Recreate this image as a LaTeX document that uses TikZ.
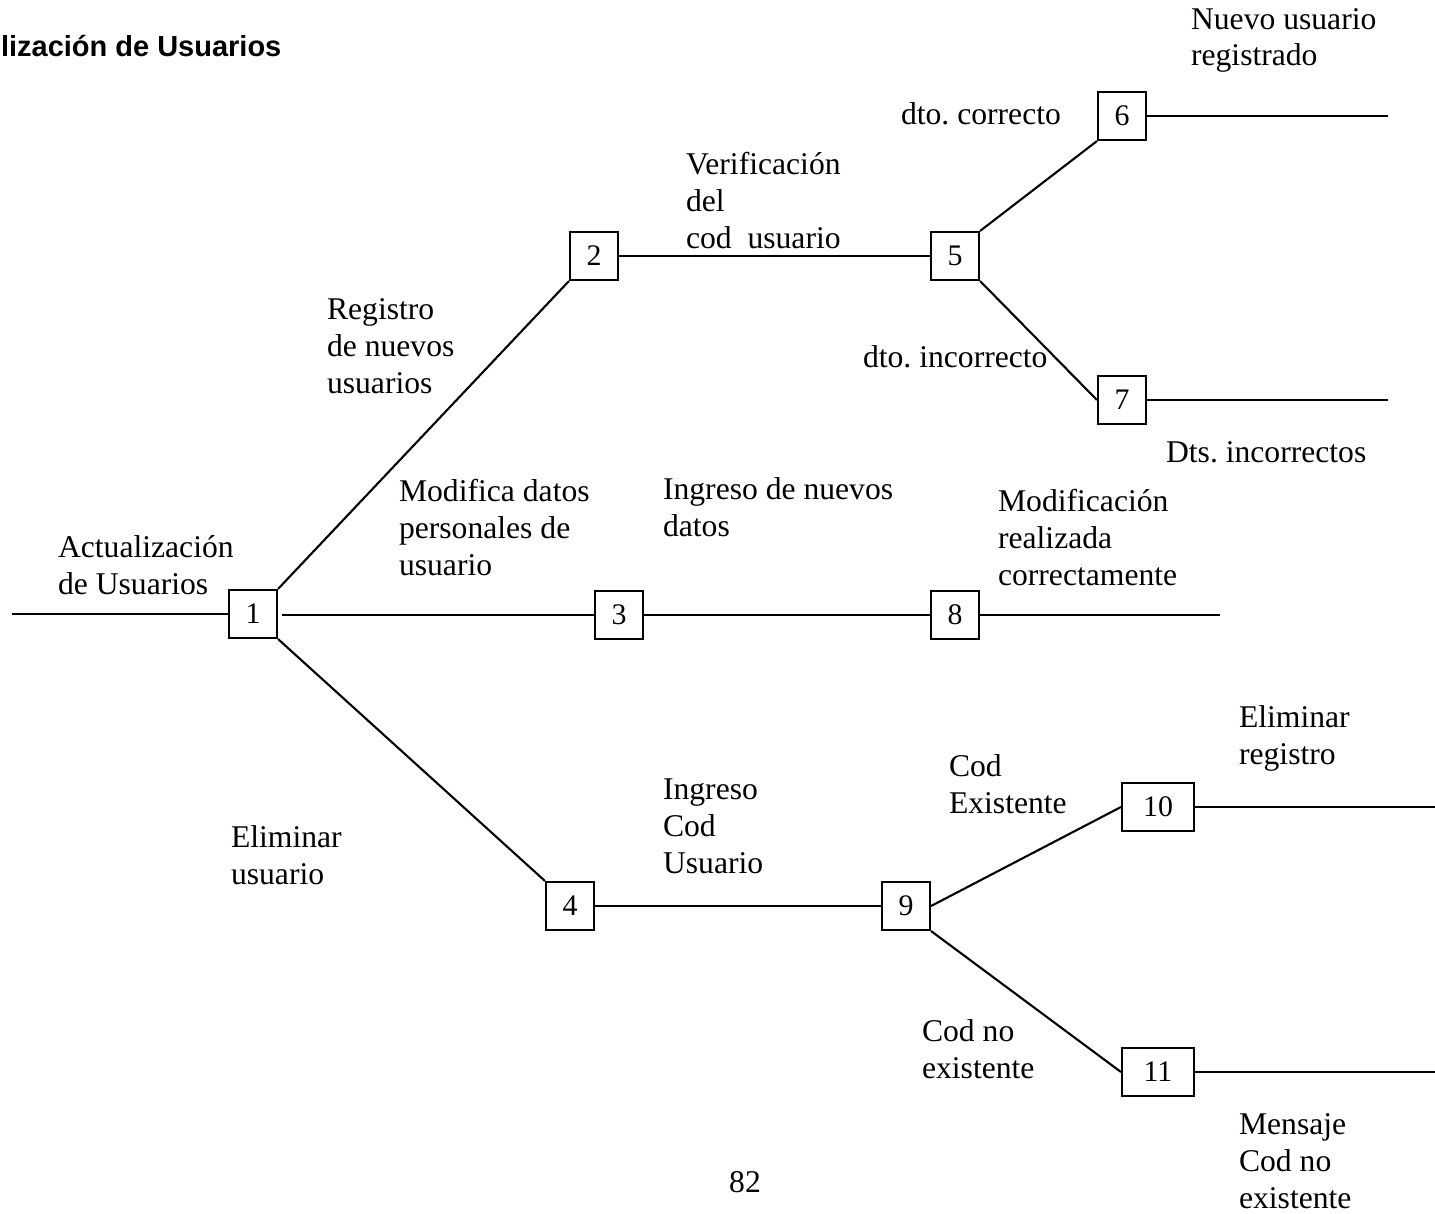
\documentclass[tikz,border=0pt]{standalone}
\usepackage{fontspec}
\setmainfont{Liberation Serif}
\newfontfamily\titlefont{Liberation Sans}
\frenchspacing
\begin{document}
\begin{tikzpicture}[x=0.02cm,y=-0.02cm,line width=1.2pt,
  caja/.style={draw,minimum width=0.96cm,minimum height=0.96cm,inner sep=0pt,font=\fontsize{17}{19}\selectfont},
  cajaancha/.style={caja,minimum width=1.44cm},
  etiqueta/.style={anchor=base west,align=left,inner sep=0pt,font=\fontsize{18}{21}\selectfont}]
\useasboundingbox (0,0) rectangle (1435,1213);
% titulo
\node[anchor=base west,inner sep=0pt,font=\titlefont\bfseries\fontsize{16.5}{19}\selectfont] (titulo) at (0,57) {lización de Usuarios};
% cajas
\node[caja] (n1) at (253,614) {1};
\node[caja] (n2) at (594,256) {2};
\node[caja] (n3) at (619,615) {3};
\node[caja] (n4) at (570,906) {4};
\node[caja] (n5) at (955,256) {5};
\node[caja] (n6) at (1122,116) {6};
\node[caja] (n7) at (1122,400) {7};
\node[caja] (n8) at (955,615) {8};
\node[caja] (n9) at (906,906) {9};
\node[cajaancha] (n10) at (1158,807) {10};
\node[cajaancha] (n11) at (1158,1072) {11};
% extremos libres
\coordinate (e0) at (12,614);
\coordinate (s1) at (282,615);
\coordinate (e6) at (1388,116);
\coordinate (e7) at (1388,400);
\coordinate (e8) at (1220,615);
\coordinate (e10) at (1435,807);
\coordinate (e11) at (1435,1072);
% lineas
\draw (e0) -- (n1.west);
\draw (n1.north east) -- (n2.south west);
\draw (s1) -- (n3.west);
\draw (n1.south east) -- (n4.north west);
\draw (n2.east) -- (n5.west);
\draw (n5.north east) -- (n6.south west);
\draw (n5.south east) -- (n7.west);
\draw (n6.east) -- (e6);
\draw (n7.east) -- (e7);
\draw (n3.east) -- (n8.west);
\draw (n8.east) -- (e8);
\draw (n4.east) -- (n9.west);
\draw (n9.east) -- (n10.west);
\draw (n9.south east) -- (n11.west);
\draw (n10.east) -- (e10);
\draw (n11.east) -- (e11);
% etiquetas (base = ultima linea)
\node[etiqueta] (l0) at (57,594) {Actualización\\de Usuarios};
\node[etiqueta] (l2) at (326,393) {Registro\\de nuevos\\usuarios};
\node[etiqueta] (l5) at (685,248) {Verificación\\del\\cod\ \ usuario};
\node[etiqueta] (l6) at (900,125) {dto. correcto};
\node[etiqueta] (l7) at (862,367) {dto. incorrecto};
\node[etiqueta] (s6) at (1190,66) {Nuevo usuario\\registrado};
\node[etiqueta] (s7) at (1165,462) {Dts. incorrectos};
\node[etiqueta] (l3) at (398,575) {Modifica datos\\personales de\\usuario};
\node[etiqueta] (l8) at (662,536) {Ingreso de nuevos\\datos};
\node[etiqueta] (s8) at (997,585) {Modificación\\realizada\\correctamente};
\node[etiqueta] (s10) at (1238,764) {Eliminar\\registro};
\node[etiqueta] (l10) at (948,813) {Cod\\Existente};
\node[etiqueta] (l9) at (662,873) {Ingreso\\Cod\\Usuario};
\node[etiqueta] (l4) at (230,884) {Eliminar\\usuario};
\node[etiqueta] (l11) at (921,1078) {Cod no\\existente};
\node[etiqueta] (s11) at (1238,1208) {Mensaje\\Cod no\\existente};
\node[anchor=base,inner sep=0pt,font=\fontsize{18}{21}\selectfont] (pag) at (745,1192) {82};
\end{tikzpicture}
\end{document}
